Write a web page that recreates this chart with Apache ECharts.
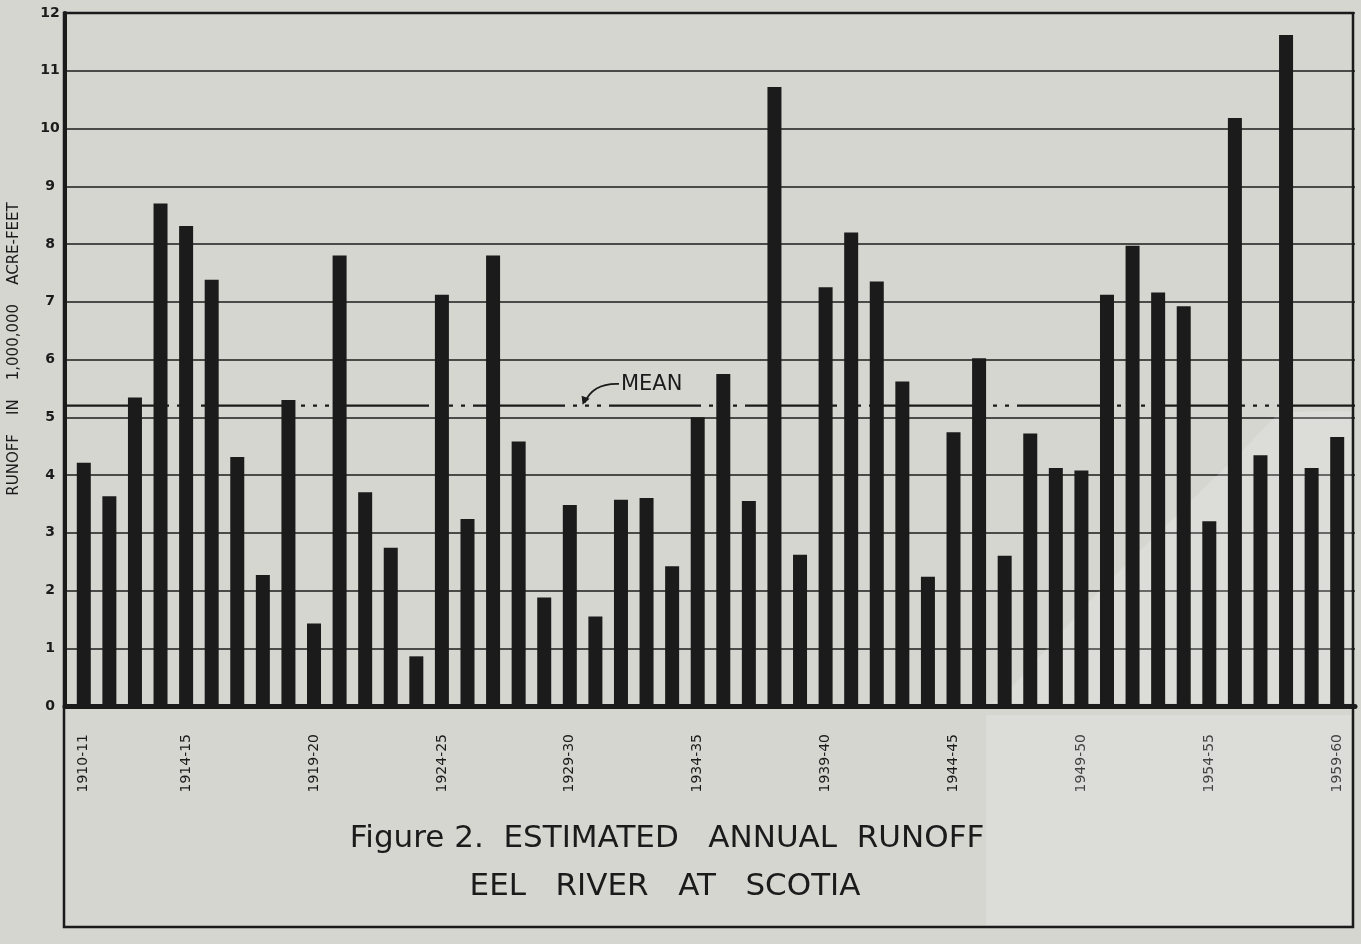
<!DOCTYPE html>
<html>
<head>
<meta charset="utf-8">
<title>Estimated Annual Runoff, Eel River at Scotia</title>
<script src="https://cdn.jsdelivr.net/npm/echarts@6/dist/echarts.min.js"></script>
<style>
  html, body { margin: 0; padding: 0; background: #d5d6d0; }
  #chart { width: 1361px; height: 944px; }
</style>
</head>
<body>
<div id="chart"></div>
<script>
// Water years (October to September), 1910-11 through 1959-60
const waterYears = [
  '1910-11', '1911-12', '1912-13', '1913-14', '1914-15', '1915-16', '1916-17', '1917-18', '1918-19', '1919-20',
  '1920-21', '1921-22', '1922-23', '1923-24', '1924-25', '1925-26', '1926-27', '1927-28', '1928-29', '1929-30',
  '1930-31', '1931-32', '1932-33', '1933-34', '1934-35', '1935-36', '1936-37', '1937-38', '1938-39', '1939-40',
  '1940-41', '1941-42', '1942-43', '1943-44', '1944-45', '1945-46', '1946-47', '1947-48', '1948-49', '1949-50',
  '1950-51', '1951-52', '1952-53', '1953-54', '1954-55', '1955-56', '1956-57', '1957-58', '1958-59', '1959-60'
];

// Estimated annual runoff, millions of acre-feet
const runoff = [
  4.21, 3.63, 5.34, 8.70, 8.31, 7.38, 4.31, 2.27, 5.30, 1.43,
  7.80, 3.70, 2.74, 0.86, 7.12, 3.24, 7.80, 4.58, 1.88, 3.48,
  1.55, 3.57, 3.60, 2.42, 5.00, 5.75, 3.55, 10.72, 2.62, 7.25,
  8.20, 7.35, 5.62, 2.24, 4.74, 6.02, 2.60, 4.72, 4.12, 4.08,
  7.12, 7.97, 7.16, 6.92, 3.20, 10.18, 4.34, 11.62, 4.12, 4.66
];

// Years that carry a label under the bars
const labeledYears = [
  '1910-11', '1914-15', '1919-20', '1924-25', '1929-30', '1934-35',
  '1939-40', '1944-45', '1949-50', '1954-55', '1959-60'
];

// Mean annual runoff for the period, millions of acre-feet
const MEAN_RUNOFF = 5.2;
const meanLine = [[0, MEAN_RUNOFF], [1, MEAN_RUNOFF]];

const yAxisRange = { min: 0, max: 12, interval: 1 };

const captionLines = ['Figure 2.  ESTIMATED   ANNUAL  RUNOFF', 'EEL   RIVER   AT   SCOTIA'];
const yAxisTitle = 'RUNOFF    IN    1,000,000    ACRE-FEET';

const INK = '#1b1b1b';
const PAPER = '#d5d6d0';
const FONT = '"DejaVu Sans", "Noto Sans", sans-serif';

const chart = echarts.init(document.getElementById('chart'), null, { renderer: 'canvas' });

const option = {
  backgroundColor: PAPER,
  animation: false,
  grid: [
    // frame grid: ruled lines, value scale, mean line
    { left: 65, right: 6, top: 13, bottom: 238 },
    // bar grid: one band per water year
    { left: 71, right: 11, top: 13, bottom: 238 },
    // outer box around chart and caption
    { left: 64, right: 8, top: 13, bottom: 17, show: true, borderColor: INK, borderWidth: 2.5, backgroundColor: 'transparent' }
  ],
  xAxis: [
    {
      gridIndex: 0, type: 'value', min: 0, max: 1,
      axisLine: { show: true, onZero: false, lineStyle: { color: INK, width: 5 } },
      axisTick: { show: false }, axisLabel: { show: false }, splitLine: { show: false }
    },
    {
      gridIndex: 1, type: 'category', data: waterYears,
      axisLine: { show: false }, axisTick: { show: false }, splitLine: { show: false },
      axisLabel: {
        rotate: 90,
        interval: (i, v) => labeledYears.includes(v),
        margin: 28,
        color: INK,
        fontFamily: FONT,
        fontSize: 14
      }
    },
    { gridIndex: 2, type: 'value', show: false }
  ],
  yAxis: [
    {
      gridIndex: 0, type: 'value', ...yAxisRange,
      axisLine: { show: true, lineStyle: { color: INK, width: 4 } },
      axisTick: { show: false },
      axisLabel: { margin: 15, align: 'center', color: INK, fontFamily: FONT, fontSize: 14, fontWeight: 'bold' },
      splitLine: { show: true, lineStyle: { color: INK, width: 1.5 } }
    },
    { gridIndex: 1, type: 'value', ...yAxisRange, show: false, splitLine: { show: false } },
    { gridIndex: 2, type: 'value', show: false }
  ],
  series: [
    {
      name: 'Runoff',
      type: 'bar',
      xAxisIndex: 1, yAxisIndex: 1,
      data: runoff,
      barWidth: 14,
      z: 3,
      itemStyle: { color: INK },
      silent: true
    },
    {
      name: 'Mean',
      type: 'line',
      xAxisIndex: 0, yAxisIndex: 0,
      data: meanLine,
      symbol: 'none',
      z: 1,
      silent: true,
      lineStyle: { color: INK, width: 2.2, type: [92, 8, 4, 8, 4, 8, 4, 8], dashOffset: 0 }
    }
  ]
};

chart.setOption(option);

// Axis title, caption and the "MEAN" callout. The callout is placed from the
// bar scale: label above the mean line, with a curved arrow down to it.
const toPx = (cat, val) => chart.convertToPixel({ xAxisIndex: 1, yAxisIndex: 1 }, [cat, val]);
const labelPt = toPx(21, MEAN_RUNOFF + 0.36);
const a = toPx(19, MEAN_RUNOFF);
const b = toPx(20, MEAN_RUNOFF);
const tip = [(a[0] + b[0]) / 2 + 2, a[1] - 3];
const start = [labelPt[0] - 2, labelPt[1] - 1];
const ctrl = [start[0] - 26, start[1] - 1];

chart.setOption({
  graphic: [
    {
      id: 'yTitle', type: 'text', x: 14, y: 349, rotation: Math.PI / 2,
      style: { text: yAxisTitle, font: '15px ' + FONT, fill: INK, textAlign: 'center', textVerticalAlign: 'middle' }
    },
    {
      id: 'caption1', type: 'text', x: 667, y: 839,
      style: { text: captionLines[0], font: '31px ' + FONT, fill: INK, textAlign: 'center', textVerticalAlign: 'middle' }
    },
    {
      id: 'caption2', type: 'text', x: 665, y: 887,
      style: { text: captionLines[1], font: '31px ' + FONT, fill: INK, textAlign: 'center', textVerticalAlign: 'middle' }
    },
    {
      id: 'meanText', type: 'text', x: labelPt[0], y: labelPt[1],
      style: { text: 'MEAN', font: '21px ' + FONT, fill: INK, textAlign: 'left', textVerticalAlign: 'middle' }
    },
    {
      id: 'meanArrow', type: 'bezierCurve',
      shape: { x1: start[0], y1: start[1], cpx1: ctrl[0], cpy1: ctrl[1], x2: tip[0], y2: tip[1] },
      style: { stroke: INK, lineWidth: 1.8, fill: null }
    },
    {
      id: 'meanArrowHead', type: 'polygon',
      shape: { points: [[tip[0] - 2, tip[1] + 2], [tip[0] - 3, tip[1] - 7], [tip[0] + 5, tip[1] - 4]] },
      style: { fill: INK }
    },
    {
      // lighter pasted-on sheet over the lower right corner of the drawing,
      // above the base line (behind the bars) ...
      id: 'pasteUpPlot', type: 'polygon', z: 2, silent: true,
      shape: { points: [[988, 703], [1000, 700], [1100, 590], [1240, 453], [1280, 412], [1351, 411], [1351, 703]] },
      style: { fill: 'rgba(255,255,255,0.17)' }
    },
    {
      // ... and below it, in the caption panel
      id: 'pasteUpCaption', type: 'polygon', z: 2, silent: true,
      shape: { points: [[986, 715], [1351, 715], [1351, 925], [986, 925]] },
      style: { fill: 'rgba(255,255,255,0.17)' }
    }
  ]
});
</script>
</body>
</html>
